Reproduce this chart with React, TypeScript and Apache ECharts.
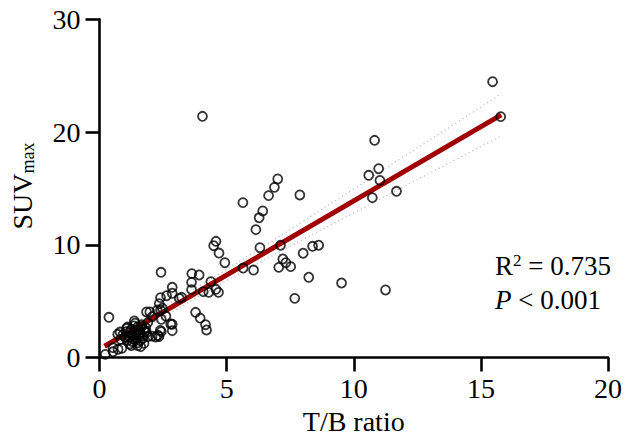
import React, { useEffect, useRef } from "react";
import * as echarts from "echarts";

// T/B ratio (x) and SUVmax (y) of each patient
const ratioValues = [
  4.05, 7.01, 6.88, 6.65, 5.64, 7.88, 6.42, 6.28, 6.15, 4.58, 4.49, 4.7, 6.31, 7.12, 8.01, 8.38, 8.62, 7.21,
  15.46, 15.78, 10.82, 10.98, 10.59, 11.03, 10.73, 11.68, 9.52, 11.25,
  7.33, 7.05, 7.52, 8.23, 7.68, 5.65, 6.06, 4.93,
  2.42, 3.63, 3.92, 3.62, 4.38, 3.62, 2.86, 2.86, 2.64, 2.4, 3.23, 3.14, 4.08, 4.3, 4.58, 4.68,
  2.35, 2.27, 2.4, 1.85, 1.98, 2.07, 2.61, 3.78, 3.96, 4.17, 4.21, 2.86, 2.86, 2.39, 2.34, 2.21,
  1.82, 1.66, 1.85, 2.47, 2.43, 2.43, 2.3, 2.8, 2.07, 1.91,
  0.37, 1.62, 1.25, 0.88, 0.73, 0.53, 0.53, 0.23, 0.92, 1.05, 0.83, 0.72, 0.81, 1.07, 1.37,
  1.1, 1.2, 1.3, 1.4, 1.5, 1.6, 1.7, 1.3, 1.45, 1.55, 1.25, 1.15, 1.35, 1.6, 1.75, 1.5, 1.4, 1.2,
  1.65, 1.8, 1.0, 1.45, 1.35, 1.55, 1.7, 1.25, 1.5, 1.1, 1.9, 1.4, 1.75,
];
const suvValues = [
  21.4, 15.84, 15.1, 14.36, 13.74, 14.42, 13.0, 12.4, 11.34, 10.31, 9.92, 9.27, 9.74, 9.96, 9.25, 9.87, 9.96, 8.74,
  24.47, 21.37, 19.27, 16.75, 16.17, 15.72, 14.18, 14.75, 6.61, 5.99,
  8.41, 8.0, 8.06, 7.12, 5.25, 7.94, 7.76, 8.41,
  7.56, 7.44, 7.32, 6.67, 6.73, 6.02, 6.23, 5.7, 5.48, 5.31, 5.34, 5.25, 5.84, 5.78, 6.05, 5.78,
  4.77, 4.21, 4.21, 4.04, 4.04, 3.62, 3.68, 4.01, 3.5, 2.91, 2.44, 2.95, 2.38, 2.41, 1.85, 1.82,
  2.64, 2.73, 2.2, 4.37, 3.39, 2.29, 1.97, 2.97, 1.9, 1.85,
  3.57, 0.96, 1.05, 0.82, 0.73, 0.51, 0.87, 0.28, 2.0, 2.29, 1.61, 2.06, 2.26, 2.59, 3.24,
  1.5, 1.8, 2.1, 2.4, 2.7, 2.2, 1.9, 1.4, 1.7, 2.0, 2.5, 2.2, 2.8, 1.5, 2.5, 1.3, 2.0, 1.2,
  2.9, 2.3, 1.8, 2.2, 1.6, 2.45, 1.7, 2.0, 1.05, 2.7, 3.1, 3.05, 1.25,
];

// regression line end points
const fitX = [0.2, 15.8];
const fitY = [1.0, 21.53];

// 95% confidence band, read at these x positions
const bandX = [0.2, 2, 4, 6, 8, 10, 12, 14, 15.8];
const bandUpper = [1.66, 3.87, 6.46, 9.22, 12.07, 14.96, 17.86, 20.77, 23.4];
const bandLower = [0.34, 2.87, 5.54, 8.06, 10.47, 12.84, 15.2, 17.55, 19.66];

const xTicks = [0, 5, 10, 15, 20];
const yTicks = [0, 10, 20, 30];

const FONT = "'Liberation Serif', 'Times New Roman', serif";

export default function App() {
  const ref = useRef<HTMLDivElement>(null);
  useEffect(() => {
    if (!ref.current) return;
    const chart = echarts.init(ref.current, null, { renderer: "svg" });
    const points = ratioValues.map((x, i) => [x, suvValues[i]]);
    const axisCommon = {
      axisLine: { show: true, onZero: false, lineStyle: { color: "#000", width: 2.6 } },
      axisTick: { show: true, inside: false, length: 14, lineStyle: { color: "#000", width: 2.6 } },
      splitLine: { show: false },
    };
    chart.setOption({
      animation: false,
      backgroundColor: "#fff",
      grid: { left: 99.5, right: 17, top: 19.4, bottom: 79.5, containLabel: false, outerBoundsMode: "none" },
      xAxis: {
        type: "value",
        min: xTicks[0],
        max: xTicks[xTicks.length - 1],
        interval: 5,
        ...axisCommon,
        axisLabel: { color: "#000", fontFamily: FONT, fontSize: 28, margin: 17 },
        name: "T/B ratio",
        nameLocation: "middle",
        nameGap: 50,
        nameTextStyle: { color: "#000", fontFamily: FONT, fontSize: 28 },
      },
      yAxis: {
        type: "value",
        min: yTicks[0],
        max: yTicks[yTicks.length - 1],
        interval: 10,
        ...axisCommon,
        axisLabel: { color: "#000", fontFamily: FONT, fontSize: 28, margin: 19 },
      },
      graphic: [
        {
          type: "text",
          x: 22,
          y: 186,
          rotation: Math.PI / 2,
          style: {
            text: "{a|SUV}{b|max}",
            align: "center",
            verticalAlign: "middle",
            rich: {
              a: { fontFamily: FONT, fontSize: 28, fill: "#000", lineHeight: 30 },
              b: { fontFamily: FONT, fontSize: 18, fill: "#000", lineHeight: 30, padding: [12, 0, 0, 0] },
            },
          },
        },
        {
          type: "text",
          left: 495,
          top: 252,
          style: {
            text: "{a|R}{s|2}{a| = 0.735}",
            rich: {
              a: { fontFamily: FONT, fontSize: 27, fill: "#000", lineHeight: 30 },
              s: { fontFamily: FONT, fontSize: 17, fill: "#000", lineHeight: 30, padding: [0, 0, 10, 0] },
            },
          },
        },
        {
          type: "text",
          left: 495,
          top: 286,
          style: {
            text: "{i|P}{a| < 0.001}",
            rich: {
              a: { fontFamily: FONT, fontSize: 27, fill: "#000", lineHeight: 30 },
              i: { fontFamily: FONT, fontSize: 27, fontStyle: "italic", fill: "#000", lineHeight: 30 },
            },
          },
        },
      ],
      series: [
        {
          type: "line",
          data: bandX.map((x, i) => [x, bandUpper[i]]),
          smooth: true,
          symbol: "none",
          lineStyle: { color: "#bdbdbd", width: 1.2, type: [1.2, 3] },
          z: 1,
        },
        {
          type: "line",
          data: bandX.map((x, i) => [x, bandLower[i]]),
          smooth: true,
          symbol: "none",
          lineStyle: { color: "#bdbdbd", width: 1.2, type: [1.2, 3] },
          z: 1,
        },
        {
          type: "line",
          data: fitX.map((x, i) => [x, fitY[i]]),
          symbol: "none",
          lineStyle: { color: "#a00000", width: 5 },
          z: 2,
        },
        {
          type: "scatter",
          data: points,
          symbol: "circle",
          symbolSize: 9,
          itemStyle: { color: "rgba(0,0,0,0)", borderColor: "#000", borderWidth: 1.8 },
          z: 3,
        },
      ],
    });
    return () => chart.dispose();
  }, []);
  return <div ref={ref} style={{ width: 625, height: 437, position: "absolute", left: 0, top: 0 }} />;
}
